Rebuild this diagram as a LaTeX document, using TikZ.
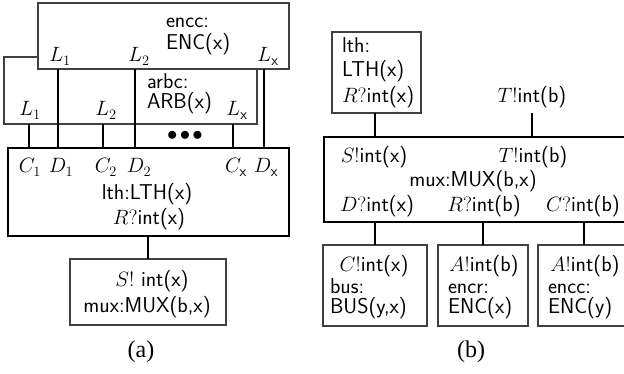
\documentclass[tikz,border=0pt]{standalone}
\usepackage{fontspec}
\newfontfamily\capfont{Liberation Serif}
\tikzset{
  thinbox/.style={draw=black!75, line width=1.4pt, fill=white, inner sep=0pt, outer sep=0pt},
  thickbox/.style={draw=black, line width=2.8pt, inner sep=0pt, outer sep=0pt},
  conn/.style={draw=black, line width=2.8pt},
  lab/.style={inner sep=0pt, outer sep=0pt, anchor=base},
  labw/.style={inner sep=0pt, outer sep=0pt, anchor=base west},
  captext/.style={inner sep=0pt, anchor=base, font=\capfont\fontsize{24}{26}\selectfont}
}
\begin{document}
\begin{tikzpicture}[x=1pt,y=-1pt, font=\fontsize{21.5}{22}\selectfont\sffamily]
\useasboundingbox (0,0) rectangle (624,374);
% ---------- panel (a) ----------
\node[thinbox, minimum width=253pt, minimum height=67pt] (arb) at (130.5,90.5) {};
\node[thinbox, minimum width=251pt, minimum height=66pt] (encc) at (163.5,36) {};
\node[thickbox, minimum width=281pt, minimum height=88pt] (lth) at (148.5,192) {};
\node[thinbox, minimum width=156pt, minimum height=66pt] (mux) at (148,292) {};

\node[labw] (enccA) at (166,28) {encc:};
\node[labw] (enccB) at (166,50) {ENC(x)};
\node[lab] (eL1) at (60,62) {$L_1$};
\node[lab] (eL2) at (139,62) {$L_2$};
\node[lab] (eLx) at (268,62) {$L_{\mathsf{x}}$};

\node[labw] (arbA) at (147,88.5) {arbc:};
\node[labw] (arbB) at (147,109) {ARB(x)};
\node[lab] (aL1) at (30,116) {$L_1$};
\node[lab] (aL2) at (106,116) {$L_2$};
\node[lab] (aLx) at (237,116) {$L_{\mathsf{x}}$};
\node[inner sep=0pt] (dots) at (185,136) {${\bullet}\mkern2mu{\bullet}\mkern2mu{\bullet}$};

\node[lab] (C1) at (30,173) {$C_1$};
\node[lab] (D1) at (61,173) {$D_1$};
\node[lab] (C2) at (106,173) {$C_2$};
\node[lab] (D2) at (139,173) {$D_2$};
\node[lab] (Cx) at (236,173) {$C_{\mathsf{x}}$};
\node[lab] (Dx) at (266,173) {$D_{\mathsf{x}}$};
\node[lab] (lthA) at (147,200) {lth:LTH(x)};
\node[lab] (lthB) at (149,225) {$R?$int(x)};

\node[lab] (muxA) at (152,287) {$S!$ int(x)};
\node[lab] (muxB) at (147,312) {mux:MUX(b,x)};
\node[captext] (capa) at (141,357) {(a)};

\coordinate (xC1) at (29,0);
\coordinate (xD1) at (58,0);
\coordinate (xC2) at (103,0);
\coordinate (xD2) at (135,0);
\coordinate (xCx) at (233,0);
\coordinate (xDx) at (264,0);
\coordinate (xM) at (148,0);
\draw[conn] (arb.south -| xC1) -- (lth.north -| xC1);
\draw[conn] (arb.south -| xC2) -- (lth.north -| xC2);
\draw[conn] (arb.south -| xCx) -- (lth.north -| xCx);
\draw[conn] (encc.south -| xD1) -- (lth.north -| xD1);
\draw[conn] (encc.south -| xD2) -- (lth.north -| xD2);
\draw[conn] (encc.south -| xDx) -- (lth.north -| xDx);
\draw[conn] (lth.south -| xM) -- (mux.north -| xM);

% ---------- panel (b) ----------
\node[thinbox, minimum width=89pt, minimum height=81pt] (lthb) at (376.5,72.5) {};
\node[thickbox, minimum width=316pt, minimum height=85pt] (muxb) at (482,179.5) {};
\node[thinbox, minimum width=104pt, minimum height=81pt] (bus) at (375,285.5) {};
\node[thinbox, minimum width=90pt, minimum height=81pt] (encr) at (483,285.5) {};
\node[thinbox, minimum width=102pt, minimum height=81pt] (enccb) at (589,285.5) {};

\node[labw] (lthbA) at (342,53) {lth:};
\node[labw] (lthbB) at (342,77) {LTH(x)};
\node[labw] (lthbC) at (342,103) {$R?$int(x)};
\node[lab] (Tfree) at (532,103) {$T!$int(b)};

\node[lab] (mbS) at (374,163) {$S!$int(x)};
\node[lab] (mbT) at (533,163) {$T!$int(b)};
\node[lab] (mbM) at (473,187) {mux:MUX(b,x)};
\node[lab] (mbD) at (377,212) {$D?$int(x)};
\node[lab] (mbR) at (484,212) {$R?$int(b)};
\node[lab] (mbC) at (583,212) {$C?$int(b)};

\node[lab] (busA) at (374,272) {$C!$int(x)};
\node[labw] (busB) at (330,293) {bus:};
\node[labw] (busC) at (330,313) {BUS(y,x)};
\node[lab] (encrA) at (484,272) {$A!$int(b)};
\node[labw] (encrB) at (448,293) {encr:};
\node[labw] (encrC) at (448,313) {ENC(x)};
\node[lab] (enccbA) at (585,272) {$A!$int(b)};
\node[labw] (enccbB) at (548,293) {encc:};
\node[labw] (enccbC) at (548,313) {ENC(y)};
\node[captext] (capb) at (471,357) {(b)};

\coordinate (xS) at (375,0);
\coordinate (xT) at (532,0);
\coordinate (xB1) at (375,0);
\coordinate (xB2) at (483,0);
\coordinate (xB3) at (584,0);
\draw[conn] (lthb.south -| xS) -- (muxb.north -| xS);
\draw[conn] ([yshift=-5pt]Tfree.south -| xT) -- (muxb.north -| xT);
\draw[conn] (muxb.south -| xB1) -- (bus.north -| xB1);
\draw[conn] (muxb.south -| xB2) -- (encr.north -| xB2);
\draw[conn] (muxb.south -| xB3) -- (enccb.north -| xB3);
\end{tikzpicture}
\end{document}
